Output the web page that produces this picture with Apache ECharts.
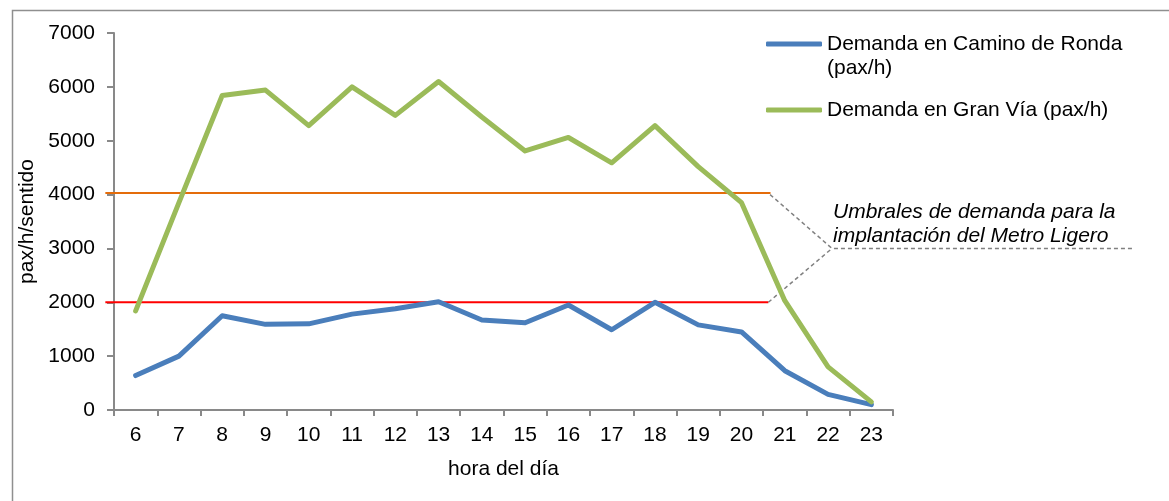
<!DOCTYPE html>
<html>
<head>
<meta charset="utf-8">
<script src="https://cdn.jsdelivr.net/npm/echarts@6/dist/echarts.min.js"></script>
<style>
  html, body { margin: 0; padding: 0; background: #fff; }
  #chart { width: 1169px; height: 501px; }
</style>
</head>
<body>
<div id="chart"></div>
<script>
// horas del día
const hours = ['6', '7', '8', '9', '10', '11', '12', '13', '14', '15', '16', '17', '18', '19', '20', '21', '22', '23']
// demanda (pax/h)
const caminoRonda = [640, 1000, 1750, 1590, 1600, 1780, 1880, 2010, 1670, 1620, 1950, 1490, 2000, 1580, 1450, 730, 290, 100]
const granVia = [1840, 3850, 5840, 5940, 5280, 6000, 5470, 6100, 5440, 4810, 5060, 4590, 5280, 4520, 3850, 2030, 800, 150]
// umbrales
const thresholds = [4030, 2000]
const thresholdFrom = [5.3, 5.3]
const thresholdTo = [20.67, 20.62]
const thresholdColors = ['#e46c0a', '#ff0000']
const yTicks = [0, 1000, 2000, 3000, 4000, 5000, 6000, 7000]
// línea guía de la anotación (hora, valor)
const leaderUpper = [[20.66, 4000], [22.09, 3000], [29.05, 3000]]
const leaderLower = [[20.62, 2000], [22.09, 3000]]

const FONT = "'Liberation Sans', Arial, sans-serif"
const names = ['Demanda en Camino de Ronda\n(pax/h)', 'Demanda en Gran Vía (pax/h)']

const chart = echarts.init(document.getElementById('chart'))

const axisGrey = '#898989'

const baseGraphic = [
  // marco exterior
  {
    type: 'rect',
    left: 10,
    top: 8,
    shape: { width: 1300, height: 700 },
    style: { fill: 'none', stroke: '#8f8f8f', lineWidth: 1.5 },
    silent: true
  },
  {
    type: 'text',
    left: 833,
    top: 200,
    style: {
      text: 'Umbrales de demanda para la\nimplantación del Metro Ligero',
      font: 'italic 21px ' + FONT,
      lineHeight: 24,
      fill: '#000'
    },
    silent: true
  }
]

const option = {
  animation: false,
  backgroundColor: '#fff',
  textStyle: { fontFamily: FONT },
  grid: {
    left: 114,
    right: 276,
    top: 33,
    bottom: 91,
    containLabel: false,
    outerBoundsMode: 'none'
  },
  legend: {
    orient: 'vertical',
    left: 766,
    top: 8,
    padding: 0,
    itemGap: 18,
    itemWidth: 56,
    itemHeight: 5,
    icon: 'roundRect',
    // primera línea del texto alineada con el icono
    formatter: name => (name.indexOf('\n') >= 0 ? '\n' + name : name),
    textStyle: { fontFamily: FONT, fontSize: 21, color: '#000', lineHeight: 24 },
    data: names
  },
  xAxis: [
    {
      type: 'category',
      data: hours,
      boundaryGap: true,
      name: 'hora del día',
      nameLocation: 'middle',
      nameGap: 49,
      nameTextStyle: { fontFamily: FONT, fontSize: 21, color: '#000' },
      axisLine: { lineStyle: { color: axisGrey, width: 2 } },
      axisTick: { show: true, length: 6, inside: false, lineStyle: { color: axisGrey, width: 2 } },
      axisLabel: { fontFamily: FONT, fontSize: 21, color: '#000', margin: 15 },
      splitLine: { show: false }
    },
    {
      type: 'value',
      min: 5.5,
      max: 23.5,
      show: false
    }
  ],
  yAxis: {
    type: 'value',
    min: yTicks[0],
    max: yTicks[yTicks.length - 1],
    interval: 1000,
    name: 'pax/h/sentido',
    nameLocation: 'middle',
    nameGap: 61,
    nameTextStyle: { fontFamily: FONT, fontSize: 21, color: '#000' },
    axisLine: { show: true, lineStyle: { color: axisGrey, width: 2 } },
    axisTick: { show: true, length: 7, lineStyle: { color: axisGrey, width: 2 } },
    axisLabel: { fontFamily: FONT, fontSize: 21, color: '#000', margin: 19, formatter: v => String(v) },
    splitLine: { show: false }
  },
  series: [
    {
      name: names[0],
      type: 'line',
      data: caminoRonda,
      symbol: 'none',
      itemStyle: { color: '#4a7ebb' },
      lineStyle: { color: '#4a7ebb', width: 5, cap: 'round', join: 'round' },
      z: 3
    },
    {
      name: names[1],
      type: 'line',
      data: granVia,
      symbol: 'none',
      itemStyle: { color: '#9bbb59' },
      lineStyle: { color: '#9bbb59', width: 5, cap: 'round', join: 'round' },
      z: 3
    }
  ],
  graphic: baseGraphic
}

chart.setOption(option)

// umbrales y líneas guía, pasadas a píxeles con las escalas del gráfico
const toPx = p => chart.convertToPixel({ xAxisIndex: 1, yAxisIndex: 0 }, p)

const thresholdGraphic = thresholds.map((v, i) => ({
  type: 'polyline',
  z: 1,
  silent: true,
  shape: { points: [toPx([thresholdFrom[i], v]), toPx([thresholdTo[i], v])] },
  style: { stroke: thresholdColors[i], lineWidth: 2, fill: null }
}))

const leaderGraphic = [leaderUpper, leaderLower].map(pts => ({
  type: 'polyline',
  z: 1,
  silent: true,
  shape: { points: pts.map(toPx) },
  style: { stroke: '#808080', lineWidth: 1.5, lineDash: [4, 3], fill: null }
}))

chart.setOption({ graphic: baseGraphic.concat(thresholdGraphic, leaderGraphic) })
</script>
</body>
</html>
